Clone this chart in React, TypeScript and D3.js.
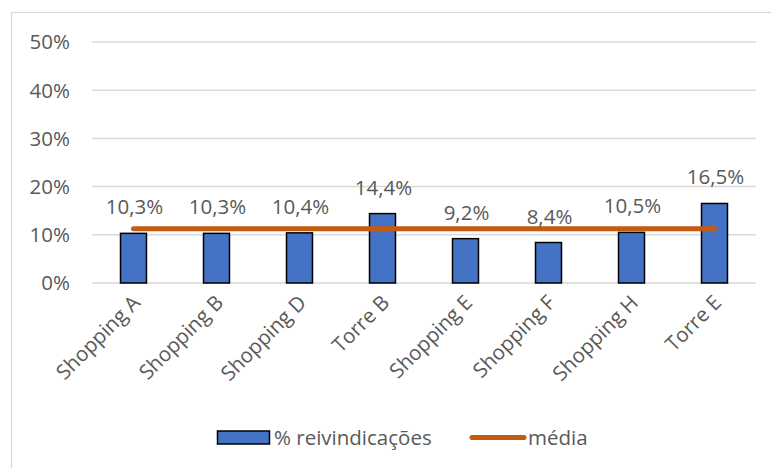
import React from "react";
import * as d3 from "d3";

const categories = [
  "Shopping A",
  "Shopping B",
  "Shopping D",
  "Torre B",
  "Shopping E",
  "Shopping F",
  "Shopping H",
  "Torre E",
];
const claims = [10.3, 10.3, 10.4, 14.4, 9.2, 8.4, 10.5, 16.5];
const average = 11.25;
const yTicks = [0, 10, 20, 30, 40, 50];
const seriesNames = ["% reivindicações", "média"];

const W = 771;
const H = 468;
const FONT = "'Open Sans', 'Noto Sans', sans-serif";
const FS = 20.5;
const TEXT = "#595959";
const GRID = "#D9D9D9";
const BAR = "#4472C4";
const LINE = "#C55A11";

const fmt = (v: number) => v.toFixed(1).replace(".", ",") + "%";

export default function App() {
  const x = d3
    .scaleBand<string>()
    .domain(categories)
    .range([92, 756])
    .paddingInner(0.687)
    .paddingOuter(0.3435);
  const y = d3.scaleLinear().domain([0, 50]).range([283, 42]);
  const center = (c: string) => (x(c) ?? 0) + x.bandwidth() / 2;

  const avgLine = d3
    .line<string>()
    .x((c) => center(c))
    .y(() => y(average));

  return (
    <svg
      width={W}
      height={H}
      style={{ position: "absolute", left: 0, top: 0, background: "#fff" }}
      fontFamily={FONT}
    >
      {/* chart frame */}
      <rect x={11.5} y={12.5} width={W + 10} height={H + 10} fill="#fff" stroke={GRID} strokeWidth={1.2} />

      {/* gridlines */}
      {yTicks.map((t) => (
        <line key={t} x1={92} x2={756} y1={y(t)} y2={y(t)} stroke={GRID} strokeWidth={1.5} />
      ))}

      {/* y tick labels */}
      {yTicks.map((t) => (
        <text key={t} x={70} y={y(t)} dy="0.36em" textAnchor="end" fontSize={FS} fill={TEXT}>
          {t + "%"}
        </text>
      ))}

      {/* bars */}
      {categories.map((c, i) => (
        <rect
          key={c}
          x={x(c)}
          y={y(claims[i])}
          width={x.bandwidth()}
          height={y(0) - y(claims[i])}
          fill={BAR}
          stroke="#000"
          strokeWidth={1.5}
        />
      ))}

      {/* average line */}
      <path
        d={avgLine([categories[0], categories[categories.length - 1]]) ?? ""}
        stroke={LINE}
        strokeWidth={5}
        strokeLinecap="round"
        fill="none"
      />

      {/* value labels */}
      {categories.map((c, i) => (
        <text
          key={c}
          x={center(c) + 1}
          y={y(claims[i]) - 19}
          textAnchor="middle"
          fontSize={FS}
          fill={TEXT}
        >
          {fmt(claims[i])}
        </text>
      ))}

      {/* category labels */}
      {categories.map((c) => (
        <text
          key={c}
          transform={`translate(${center(c) + 8},${304}) rotate(-45)`}
          textAnchor="end"
          fontSize={FS}
          fill={TEXT}
        >
          {c}
        </text>
      ))}

      {/* legend */}
      <g>
        <rect x={217.5} y={431} width={52} height={13} fill={BAR} stroke="#000" strokeWidth={1.5} />
        <text x={274} y={445} fontSize={FS} fill={TEXT}>
          {seriesNames[0]}
        </text>
        <line x1={472} x2={524} y1={437.5} y2={437.5} stroke={LINE} strokeWidth={5} strokeLinecap="round" />
        <text x={528} y={445} fontSize={FS} fill={TEXT}>
          {seriesNames[1]}
        </text>
      </g>
    </svg>
  );
}
